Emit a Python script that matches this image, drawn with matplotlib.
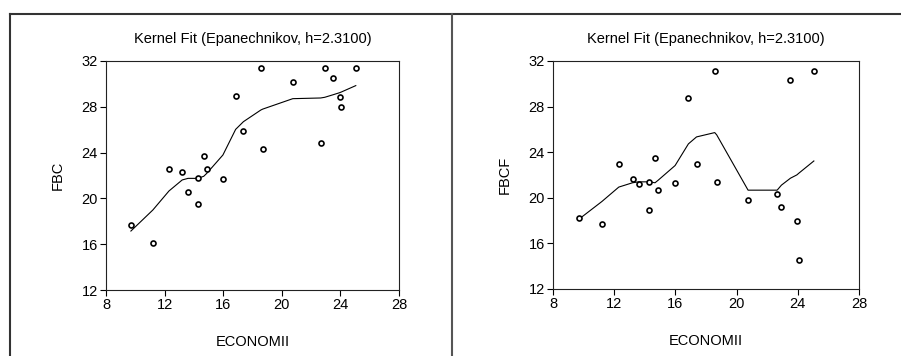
import numpy as np
import matplotlib.pyplot as plt
from matplotlib.lines import Line2D

plt.rcParams['font.family'] = ['Liberation Sans', 'DejaVu Sans']

# ECONOMII values (shared x)
economii = [9.7, 11.2, 12.3, 13.2, 13.6, 14.27, 14.27, 14.67, 14.88, 15.98,
            16.85, 17.38, 18.57, 18.7, 20.75, 22.65, 22.93, 23.52, 23.94, 24.06, 25.05]

# left panel: FBC
fbc = [17.68, 16.08, 22.6, 22.31, 20.59, 21.81, 19.48, 23.7, 22.6, 21.67,
       28.97, 25.92, 31.36, 24.29, 30.17, 24.81, 31.36, 30.49, 28.88, 27.98, 31.36]
fbc_fit = [17.15, 18.99, 20.65, 21.61, 21.75, 21.75, 21.75, 21.93, 22.19, 23.79,
           26.03, 26.7, 27.72, 27.8, 28.71, 28.77, 28.83, 29.06, 29.23, 29.29, 29.85]

# right panel: FBCF
fbcf = [18.22, 17.69, 23.0, 21.61, 21.23, 21.4, 18.92, 23.53, 20.67, 21.29,
        28.79, 23.0, 31.12, 21.4, 19.8, 20.32, 19.21, 30.31, 18.0, 14.53, 31.12]
fbcf_fit = [18.13, 19.68, 20.94, 21.32, 21.4, 21.4, 21.4, 21.32, 21.55, 22.83,
            24.73, 25.34, 25.72, 25.52, 20.67, 20.67, 21.11, 21.72, 22.01, 22.15, 23.23]

title = 'Kernel Fit (Epanechnikov, h=2.3100)'
xticks = [8, 12, 16, 20, 24, 28]
yticks = [12, 16, 20, 24, 28, 32]

fig = plt.figure(figsize=(9.01, 3.56), dpi=100)

panels = [
    ([106 / 901, 66 / 356, 293 / 901, 229 / 356], fbc, fbc_fit, 'FBC'),
    ([553 / 901, 67 / 356, 306 / 901, 228 / 356], fbcf, fbcf_fit, 'FBCF'),
]

for rect, yv, fit, ylab in panels:
    ax = fig.add_axes(rect)
    ax.plot(economii, fit, color='black', lw=0.8)
    ax.plot(economii, yv, 'o', ms=3.6, mfc='white', mec='black', mew=1.2)
    ax.set_xlim(8, 28)
    ax.set_ylim(12, 32)
    ax.set_xticks(xticks)
    ax.set_yticks(yticks)
    ax.tick_params(direction='out', length=4.5, width=0.8, labelsize=10.5, pad=1.5)
    for s in ax.spines.values():
        s.set_linewidth(0.8)
        s.set_color('#222222')
    ax.set_title(title, fontsize=10.5, pad=13)
    ax.set_xlabel('ECONOMII', fontsize=10.5, labelpad=16)
    ax.set_ylabel(ylab, fontsize=10.5, labelpad=12)

# outer frame lines of the screenshot
fig.add_artist(Line2D([10 / 901, 1], [1 - 14 / 356] * 2, color='#333333', lw=1.5))
fig.add_artist(Line2D([10 / 901] * 2, [0, 1 - 14 / 356], color='#333333', lw=1.5))
fig.add_artist(Line2D([452 / 901] * 2, [0, 1 - 14 / 356], color='#555555', lw=1.5))

fig.savefig('out.png', dpi=100)
